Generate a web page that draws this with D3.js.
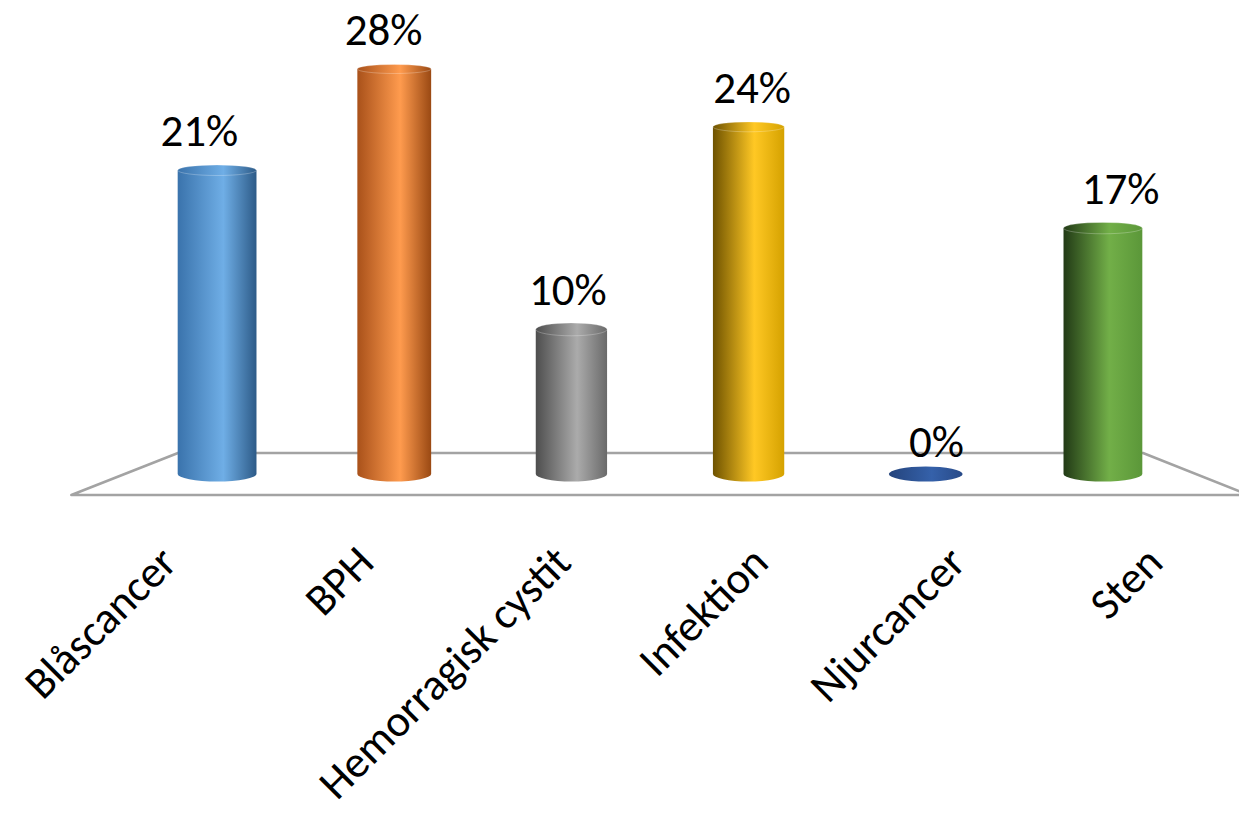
<!DOCTYPE html>
<html>
<head>
<meta charset="utf-8">
<script src="https://cdn.jsdelivr.net/npm/d3@7"></script>
<style>
  html, body { margin: 0; padding: 0; background: #fff; }
  svg { display: block; }
  text { font-family: Carlito, Lato, "Open Sans", sans-serif; fill: #000; }
</style>
</head>
<body>
<svg id="chart" width="1239" height="815"></svg>
<script>
// Share of cases by diagnosis (percent)
const categories = ["Blåscancer", "BPH", "Hemorragisk cystit", "Infektion", "Njurcancer", "Sten"];
const values = [21, 28, 10, 24, 0, 17];
const valueLabels = ["21%", "28%", "10%", "24%", "0%", "17%"];

// Cylinder shading per category: [shadow edge, highlight, far edge]
const shades = [
  ["#3A73AC", "#6FAEE6", "#2D5B88"],
  ["#A9511A", "#FF9B4E", "#9A4913"],
  ["#4E4E4E", "#ABABAB", "#6A6A6A"],
  ["#6E5200", "#FFC824", "#D5A200"],
  ["#24447C", "#3561AA", "#284A88"],
  ["#223A16", "#72AF48", "#5B9739"]
];

const svg = d3.select("#chart");
const defs = svg.append("defs");

const x = d3.scaleBand().domain(categories).range([128.5, 1191.5]).padding(0);
const y = d3.scaleLinear().domain([0, 28]).range([474, 69]);
const midX = (x.range()[0] + x.range()[1]) / 2;

// Ellipse depth grows slightly toward the bottom of the view
const ryAt = d3.scaleLinear().domain([69, 474]).range([4.5, 7.5]);
const cx = c => x(c) + x.bandwidth() / 2;
// Off-centre columns look a little wider
const halfW = c => 35.5 * (1 + 0.11 * Math.pow((cx(c) - midX) / 443, 2));

// Floor plane
const floorBackY = y(0) - 21, floorFrontY = y(0) + 21;
const backL = x.range()[0] + 49.5, backR = x.range()[1] - 48.5;
const frontHalf = (backR - backL) / 2 * 1.22;
const floor = d3.path();
floor.moveTo(backL, floorBackY);
floor.lineTo(backR, floorBackY);
floor.lineTo(midX + frontHalf, floorFrontY);
floor.lineTo(midX - frontHalf, floorFrontY);
floor.closePath();
svg.append("path")
  .attr("d", floor.toString())
  .attr("fill", "none")
  .attr("stroke", "#A3A3A3")
  .attr("stroke-width", 2.6)
  .attr("stroke-linejoin", "round");

// Gradients
categories.forEach((c, i) => {
  const g = defs.append("linearGradient")
    .attr("id", "grad" + i)
    .attr("x1", 0).attr("x2", 1).attr("y1", 0).attr("y2", 0);
  const s = shades[i];
  g.append("stop").attr("offset", "0%").attr("stop-color", s[0]);
  g.append("stop").attr("offset", "58%").attr("stop-color", s[1]);
  g.append("stop").attr("offset", "100%").attr("stop-color", s[2]);
});

const bars = svg.append("g").selectAll("g.bar")
  .data(categories.map((c, i) => ({ c, v: values[i], label: valueLabels[i], i })))
  .join("g").attr("class", "bar");

bars.each(function(d) {
  const g = d3.select(this);
  const xc = cx(d.c), hw = halfW(d.c);
  const yb = y(0), yt = y(d.v);
  const rb = ryAt(yb), rt = ryAt(yt);
  if (d.v > 0) {
    // Side of the cylinder: straight walls, rounded front at the base
    const body = `M${xc - hw},${yt} L${xc - hw},${yb} A${hw},${rb} 0 0 0 ${xc + hw},${yb} L${xc + hw},${yt} Z`;
    g.append("path").attr("d", body).attr("fill", `url(#grad${d.i})`);
  }
  g.append("ellipse")
    .attr("cx", xc).attr("cy", yt)
    .attr("rx", hw).attr("ry", d.v > 0 ? rt : rb)
    .attr("fill", `url(#grad${d.i})`)
    .attr("stroke", d.v > 0 ? "#ffffff" : "none")
    .attr("stroke-opacity", 0.25)
    .attr("stroke-width", 1);
  // Value label, nudged outward with the perspective
  g.append("text")
    .attr("x", xc + (xc - midX) * 0.04)
    .attr("y", yt - (d.v > 0 ? 24 : 17))
    .attr("text-anchor", "middle")
    .attr("font-size", 45)
    .text(d.label);
});

// Category labels along the front edge of the floor
const frontScale = 1.113;
svg.append("g").selectAll("text")
  .data(categories)
  .join("text")
  .attr("transform", c => `translate(${midX + (cx(c) - midX) * frontScale + 12},565) rotate(-45)`)
  .attr("text-anchor", "end")
  .attr("font-size", 44.5)
  .text(c => c);
</script>
</body>
</html>
